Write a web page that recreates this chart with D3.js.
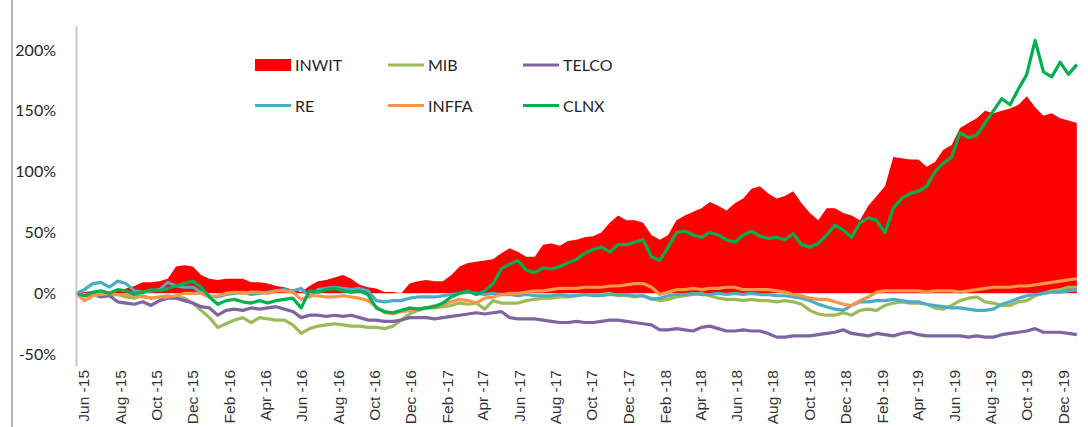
<!DOCTYPE html>
<html><head><meta charset="utf-8">
<script src="https://cdn.jsdelivr.net/npm/d3@7"></script>
<style>body{margin:0;background:#fff;} svg{display:block;}</style>
</head><body><svg id="chart" width="1088" height="427"></svg>
<script>
// ---- data (values in %, one sample every 14 days from startDate) ----
const startDate = new Date(2015, 4, 20);
const endDate = new Date(2019, 11, 27);
const stepDays = 14;

const inwit = [0,1,2,0,1,2,4,6,9,9,
  10,12,22,23,22,15,12,11,12,12,
  12,9,9,8,6,5,3,1,6,10,
  11,13,15,12,7,5,4,1,1,0,
  8,10,11,10,10,15,22,25,26,27,
  28,33,37,34,30,30,40,41,39,43,
  44,46,47,50,58,64,60,60,58,48,
  44,48,60,64,67,70,75,72,68,74,
  78,86,88,82,78,80,84,74,66,60,
  70,70,66,64,60,72,80,88,112,111,
  110,110,104,108,118,122,136,140,144,150,
  148,150,152,155,162,153,146,148,144,142,
  140];
const mib = [0,-2,-1,-1,-2,-1,-3,-4,-2,-4,
  -3,-2,-3,-4,-8,-14,-20,-28,-25,-22,
  -20,-24,-20,-21,-22,-22,-26,-33,-29,-27,
  -26,-25,-26,-27,-27,-28,-28,-29,-27,-22,
  -17,-14,-12,-12,-11,-10,-8,-9,-8,-13,
  -6,-8,-8,-8,-6,-5,-4,-4,-3,-3,
  -2,-1,-1,-1,0,-2,-2,-3,-2,-4,
  -6,-5,-3,-2,-1,0,-2,-4,-5,-5,
  -6,-5,-6,-6,-7,-6,-7,-9,-14,-17,
  -18,-18,-16,-18,-14,-13,-14,-10,-8,-7,
  -8,-8,-9,-12,-13,-10,-6,-4,-3,-7,
  -8,-10,-10,-7,-6,-2,0,2,3,5,
  5];
const telco = [0,-2,-1,-3,-2,-7,-8,-9,-7,-10,
  -6,-4,-4,-6,-8,-11,-12,-18,-14,-13,
  -14,-12,-13,-12,-11,-13,-15,-20,-18,-18,
  -19,-18,-19,-18,-20,-22,-22,-23,-23,-22,
  -20,-20,-20,-21,-20,-19,-18,-17,-16,-17,
  -16,-15,-20,-21,-21,-21,-22,-23,-24,-24,
  -23,-24,-24,-23,-22,-22,-23,-24,-25,-26,
  -30,-30,-29,-30,-31,-28,-27,-29,-31,-31,
  -30,-31,-31,-33,-36,-36,-35,-35,-35,-34,
  -33,-32,-30,-33,-34,-35,-33,-34,-35,-33,
  -32,-34,-35,-35,-35,-35,-35,-36,-35,-36,
  -36,-34,-33,-32,-31,-29,-32,-32,-32,-33,
  -34];
const re = [0,3,8,9,5,10,8,2,1,2,
  3,9,6,5,5,1,-2,-3,-1,0,
  1,-1,0,1,2,3,2,4,-3,3,
  4,5,4,3,4,2,-6,-7,-6,-6,
  -4,-3,-3,-3,-2,-1,0,1,0,-1,
  0,-1,-1,-2,-1,-2,-2,-2,-1,-2,
  -2,-1,-2,-2,-1,-1,-1,-2,-2,-5,
  -4,-2,-1,-1,0,-1,-1,0,-1,0,
  -1,0,-1,-1,-2,-2,-3,-4,-6,-9,
  -11,-13,-14,-10,-7,-7,-6,-6,-5,-6,
  -7,-7,-9,-10,-11,-12,-12,-13,-14,-14,
  -13,-9,-7,-4,-2,-1,0,1,1,2,
  3];
const inffa = [0,-6,-2,-1,0,-1,-1,-2,-3,-4,
  -3,-3,-2,0,0,0,-3,-2,0,1,
  0,1,1,0,2,2,1,-5,-2,-2,
  -3,-3,-2,-3,-4,-6,-11,-16,-17,-15,
  -14,-13,-12,-10,-9,-7,-5,-6,-8,-4,
  -3,-1,0,0,1,2,2,3,4,4,
  4,5,5,5,6,6,7,8,8,5,
  -1,1,3,3,4,3,4,4,5,5,
  3,3,3,3,2,1,-1,-2,-4,-5,
  -5,-7,-9,-10,-6,-3,1,2,2,2,
  2,2,1,2,2,2,1,2,3,4,
  5,5,5,6,6,7,8,9,10,11,
  12];
const clnx = [0,-2,1,2,0,3,2,-1,1,3,
  2,4,6,8,10,5,-3,-9,-6,-5,
  -7,-8,-6,-8,-6,-5,-4,-12,2,1,
  3,4,2,1,2,-1,-12,-15,-16,-14,
  -12,-13,-12,-11,-8,-3,0,2,-1,2,
  8,20,24,27,19,17,21,20,22,25,
  28,33,36,38,34,40,40,42,44,30,
  27,38,50,51,48,46,50,48,44,42,
  48,51,47,45,46,44,49,40,38,41,
  48,56,52,46,58,62,60,50,70,78,
  82,84,88,100,107,112,132,128,130,140,
  150,160,155,168,180,208,182,178,190,180,
  188];

const lineSeriesNames = ["MIB","TELCO","RE","INFFA","CLNX"];
const lineSeriesColors = ["#9BBB59","#8064A2","#4BACC6","#F79646","#00B050"];
const areaName = "INWIT";
const areaColor = "#FF0000";

const yTickValues = [-50,0,50,100,150,200];
const xTickLabels = ["Jun -15","Aug -15","Oct -15","Dec -15","Feb -16","Apr -16","Jun -16","Aug -16",
  "Oct -16","Dec -16","Feb -17","Apr -17","Jun -17","Aug -17","Oct -17","Dec -17","Feb -18","Apr -18",
  "Jun -18","Aug -18","Oct -18","Dec -18","Feb -19","Apr -19","Jun -19","Aug -19","Oct -19","Dec -19"];

// ---- drawing ----
const svg = d3.select("#chart");
const dates = inwit.map((_, i) => d3.timeDay.offset(startDate, i * stepDays));
const x = d3.scaleTime().domain([startDate, endDate]).range([76, 1078]);
const y = d3.scaleLinear().domain([-60, 220]).range([366.3, 25.7]);

// frame line at left
svg.append("line").attr("x1", 12).attr("x2", 12).attr("y1", 0).attr("y2", 427)
  .attr("stroke", "#a6a6a6").attr("stroke-width", 1.6);

// area
svg.append("path").datum(inwit)
  .attr("fill", areaColor)
  .attr("d", d3.area().x((d, i) => x(dates[i])).y0(y(0)).y1(d => y(d)));

// lines
const lineData = [mib, telco, re, inffa, clnx];
const lineGen = d3.line().x((d, i) => x(dates[i])).y(d => y(d));
lineData.forEach((s, k) => {
  svg.append("path").datum(s)
    .attr("fill", "none")
    .attr("stroke", lineSeriesColors[k])
    .attr("stroke-width", 3.2)
    .attr("stroke-linejoin", "round")
    .attr("d", lineGen);
});

// y axis
const yAxis = svg.append("g").attr("transform", "translate(76,0)")
  .call(d3.axisLeft(y).tickValues(yTickValues).tickFormat(d => d + "%").tickSize(0).tickPadding(20));
yAxis.select(".domain").attr("stroke", "#c8c8c8").attr("stroke-width", 2);
yAxis.selectAll("text").attr("font-family", "Lato, 'Open Sans', sans-serif")
  .attr("font-size", 16).attr("fill", "#262626");

// x axis labels
const parseTick = d3.timeParse("%b -%y");
const xTickDates = xTickLabels.map(parseTick);
const xAxis = svg.append("g").attr("transform", "translate(0,370)")
  .call(d3.axisBottom(x).tickValues(xTickDates).tickFormat((d, i) => xTickLabels[i]).tickSize(0));
xAxis.select(".domain").remove();
xAxis.selectAll("text")
  .attr("font-family", "'Liberation Sans', Arial, sans-serif")
  .attr("font-size", 15.5).attr("fill", "#333")
  .attr("text-anchor", "end")
  .attr("x", 0).attr("y", 0).attr("dy", "0.36em")
  .attr("transform", "rotate(-90)");

// legend
const legendItems = [
  {name: areaName, color: areaColor, type: "rect", col: 0, row: 0},
  {name: lineSeriesNames[0], color: lineSeriesColors[0], type: "line", col: 1, row: 0},
  {name: lineSeriesNames[1], color: lineSeriesColors[1], type: "line", col: 2, row: 0},
  {name: lineSeriesNames[2], color: lineSeriesColors[2], type: "line", col: 0, row: 1},
  {name: lineSeriesNames[3], color: lineSeriesColors[3], type: "line", col: 1, row: 1},
  {name: lineSeriesNames[4], color: lineSeriesColors[4], type: "line", col: 2, row: 1}
];
const colX = [255, 388, 523];
const rowY = [65, 105.5];
const lg = svg.append("g");
legendItems.forEach(it => {
  const x0 = colX[it.col], yc = rowY[it.row];
  if (it.type === "rect") {
    lg.append("rect").attr("x", x0).attr("y", yc - 6).attr("width", 36).attr("height", 12).attr("fill", it.color);
  } else {
    lg.append("line").attr("x1", x0).attr("x2", x0 + 36).attr("y1", yc).attr("y2", yc)
      .attr("stroke", it.color).attr("stroke-width", 3);
  }
  lg.append("text").attr("x", x0 + 40).attr("y", yc + 6)
    .attr("font-family", "Lato, 'Open Sans', sans-serif").attr("font-size", 16)
    .attr("fill", "#262626").text(it.name);
});
</script>
</body></html>
